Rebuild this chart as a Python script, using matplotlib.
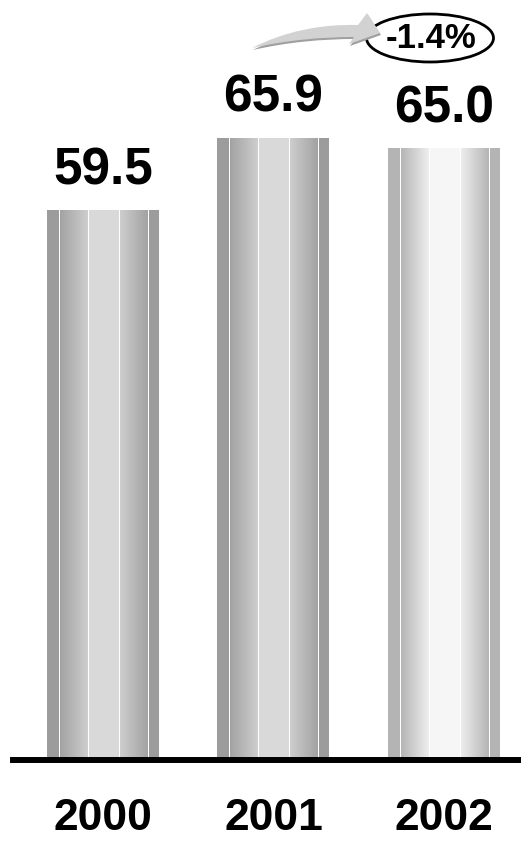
import numpy as np
import matplotlib.pyplot as plt
import matplotlib.colors as mcolors
from matplotlib.patches import Ellipse, PathPatch
from matplotlib.path import Path

plt.rcParams['font.family'] = ['Liberation Sans', 'DejaVu Sans']

# --- data ---
years = ['2000', '2001', '2002']
sales = [59.5, 65.9, 65.0]
change_label = '-1.4%'

# --- bar shading (edge, gradient dark, gradient light, centre) ---
tones = [
    ('#9c9c9c', '#a2a2a2', '#cecece', '#d9d9d9'),
    ('#9c9c9c', '#a2a2a2', '#cecece', '#d9d9d9'),
    ('#b4b4b4', '#b5b5b5', '#eeeeee', '#f6f6f6'),
]

W, H = 521, 842
fig = plt.figure(figsize=(W / 100, H / 100), dpi=100)
ax = fig.add_axes([13 / W, 1 - 760 / H, 1 - 13 / W, 760 / H])

x = np.arange(len(years))
bar_w = 0.657
ymin, ymax = 11.0, 78.1


def stripe_profile(edge, dark, light, centre, n=448):
    """Column colours of one cylinder-like bar, white gaps between stripes."""
    f = (np.arange(n) + 0.5) / n
    e, d, l, c = (np.array(mcolors.to_rgb(k)) for k in (edge, dark, light, centre))
    rgb = np.ones((n, 3))
    for i, fi in enumerate(f):
        if fi < 0.107 or fi > 0.911:
            rgb[i] = e
        elif 0.116 <= fi < 0.366:
            t = (fi - 0.116) / 0.25
            rgb[i] = d + (l - d) * t
        elif 0.375 <= fi < 0.643:
            rgb[i] = c
        elif 0.652 <= fi < 0.902:
            t = (fi - 0.652) / 0.25
            rgb[i] = l + (d - l) * t
    return rgb[None, :, :]


bars = ax.bar(x, sales, width=bar_w, color='none', edgecolor='none')
for rect, tone in zip(bars, tones):
    x0, w, h = rect.get_x(), rect.get_width(), rect.get_height()
    ax.imshow(stripe_profile(*tone), extent=(x0, x0 + w, ymin, h),
              aspect='auto', interpolation='nearest', zorder=2)

for xi, v in zip(x, sales):
    ax.annotate(f'{v:.1f}', (xi, v), xytext=(0, 11), textcoords='offset points',
                ha='center', va='bottom', fontsize=37, fontweight='bold')

ax.set_xlim(-0.528, 2.452)
ax.set_ylim(ymin, ymax)
ax.set_yticks([])
ax.set_xticks(x, years)
ax.tick_params(axis='x', length=0, pad=27, labelsize=32)
for lab in ax.get_xticklabels():
    lab.set_fontweight('bold')
for side in ['top', 'right', 'left']:
    ax.spines[side].set_visible(False)
ax.spines['bottom'].set_linewidth(4.3)
ax.spines['bottom'].set_color('black')


# --- change marker: curved arrow into an ellipse ---
def px(pts, dx=0, dy=0):
    return [((a + dx) / W, 1 - (b + dy) / H) for a, b in pts]


arrow_pts = [(252, 48), (285, 31), (322, 24), (358, 25),
             (367, 13), (380, 33), (349, 44), (354, 37),
             (322, 37), (287, 40), (252, 48), (252, 48)]
codes = [Path.MOVETO, Path.CURVE4, Path.CURVE4, Path.CURVE4,
         Path.LINETO, Path.LINETO, Path.LINETO, Path.LINETO,
         Path.CURVE4, Path.CURVE4, Path.CURVE4, Path.CLOSEPOLY]

oval = Ellipse((430 / W, 1 - 38 / H), 127 / W, 48 / H, transform=fig.transFigure,
               facecolor='white', edgecolor='black', lw=2.0, zorder=1)
fig.add_artist(oval)
shadow = PathPatch(Path(px(arrow_pts, 1, 2), codes), transform=fig.transFigure,
                   facecolor='#a0a0a0', edgecolor='none', zorder=2)
fig.add_artist(shadow)
arrow = PathPatch(Path(px(arrow_pts), codes), transform=fig.transFigure,
                  facecolor='#d2d2d2', edgecolor='none', zorder=3)
fig.add_artist(arrow)
fig.text(431 / W, 1 - 39 / H, change_label, ha='center', va='center',
         fontsize=25, fontweight='bold', zorder=4)

fig.savefig('out.png', dpi=100)
